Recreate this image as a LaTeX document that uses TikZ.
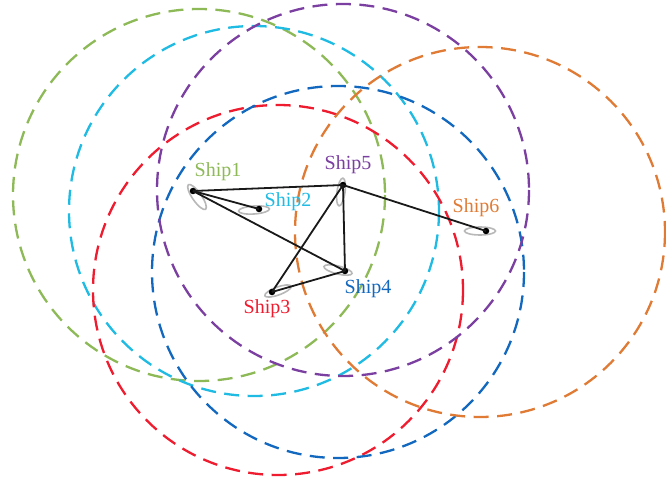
\documentclass[tikz,border=0pt]{standalone}
\usepackage{fontspec}
\setmainfont{Liberation Serif}
\usetikzlibrary{shapes.geometric}
\definecolor{cgreen}{HTML}{8DB957}
\definecolor{ccyan}{HTML}{1FBBE3}
\definecolor{cred}{HTML}{EE1C2E}
\definecolor{cblue}{HTML}{1268BE}
\definecolor{cpurple}{HTML}{7A3FA0}
\definecolor{corange}{HTML}{E07B35}
\tikzset{
  x=1pt,y=-1pt,
  commrange/.style={line width=2.3pt,dash pattern=on 15pt off 8.5pt},
  shipdot/.style={circle,fill=black,inner sep=0pt,minimum size=6.5pt},
  hull/.style={ellipse,draw=black!28,fill=white,line width=1.6pt,inner sep=0pt},
  shiplink/.style={line width=1.8pt,black!90},
  shiplab/.style={font=\fontsize{20}{22}\selectfont,inner sep=0pt,anchor=center},
}
\begin{document}
\begin{tikzpicture}
\useasboundingbox (0,0) rectangle (666,478);
\draw[commrange,cgreen] (199,195) circle (186);
\draw[commrange,ccyan] (254,211) circle (185);
\draw[commrange,cred] (278,290) circle (185);
\draw[commrange,cblue] (338,272) circle (186);
\draw[commrange,cpurple] (343,190) circle (186);
\draw[commrange,corange] (480,232) circle (185);
% hulls
\node[hull,minimum width=30pt,minimum height=9pt,rotate=-55] at (197,197) {};
\node[hull,minimum width=31pt,minimum height=8pt,rotate=4] at (254,210) {};
\node[hull,minimum width=28pt,minimum height=8pt,rotate=20] at (278,291) {};
\node[hull,minimum width=29pt,minimum height=8pt,rotate=-14] at (338,270) {};
\node[hull,minimum width=8pt,minimum height=28pt,rotate=-8] at (341,192) {};
\node[hull,minimum width=31pt,minimum height=8pt] at (480,231) {};
% ships
\node[shipdot] (s1) at (193,191) {};
\node[shipdot] (s2) at (259,209) {};
\node[shipdot] (s3) at (272,292) {};
\node[shipdot] (s4) at (345,271) {};
\node[shipdot] (s5) at (343,185) {};
\node[shipdot] (s6) at (486,231) {};
\draw[shiplink] (s1.center) -- (s5.center);
\draw[shiplink] (s1.center) -- (s2.center);
\draw[shiplink] (s1.center) -- (s4.center);
\draw[shiplink] (s3.center) -- (s5.center);
\draw[shiplink] (s3.center) -- (s4.center);
\draw[shiplink] (s4.center) -- (s5.center);
\draw[shiplink] (s5.center) -- (s6.center);
% labels
\node[shiplab,text=cgreen] (l1) at (218,172) {Ship1};
\node[shiplab,text=ccyan] (l2) at (288,202) {Ship2};
\node[shiplab,text=cred] (l3) at (267,309) {Ship3};
\node[shiplab,text=cblue] (l4) at (368,289) {Ship4};
\node[shiplab,text=cpurple] (l5) at (348,165) {Ship5};
\node[shiplab,text=corange] (l6) at (476,208) {Ship6};
\end{tikzpicture}
\end{document}
